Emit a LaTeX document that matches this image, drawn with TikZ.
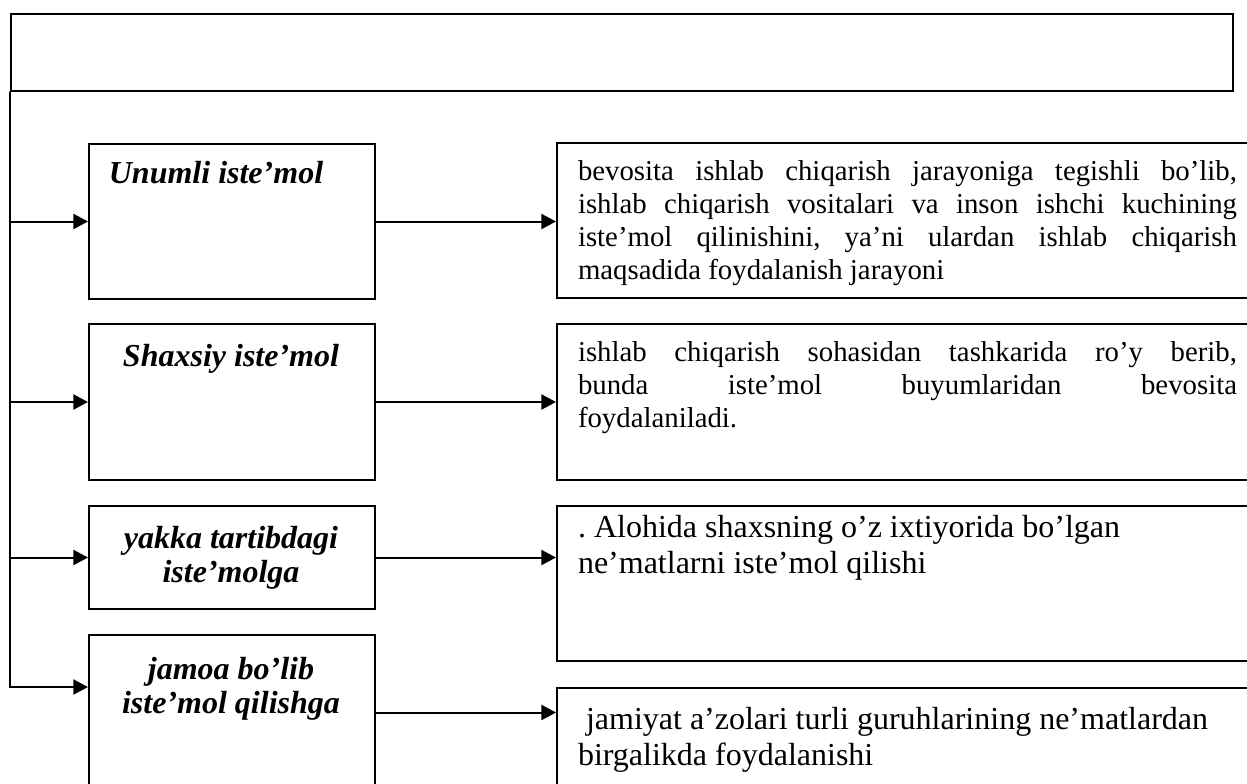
\documentclass[tikz,border=0pt]{standalone}
\usepackage{fontspec}
\setmainfont{Liberation Serif}
\usetikzlibrary{arrows.meta}
\newcommand\jline[1]{\makebox[329.5pt][s]{\spaceskip=0pt\xspaceskip=0pt #1}}

\begin{document}
\begin{tikzpicture}[x=0.5pt, y=-0.5pt, line width=1pt, line cap=round,
  >={Triangle[length=7.3pt,width=7.5pt]},
  box/.style={draw, inner sep=0pt, anchor=north west},
  lbox/.style={box, minimum width=143pt, minimum height=77.5pt},
  rbox/.style={box, minimum width=353pt, minimum height=77.5pt},
  ltext/.style={anchor=base, align=center, inner sep=0pt,
    font=\fontsize{16pt}{17pt}\selectfont\bfseries\itshape},
  rtext/.style={anchor=base west, inner sep=0pt, text width=329.5pt, align=justify,
    font=\fontsize{14.4pt}{16.5pt}\selectfont\frenchspacing},
  rtextb/.style={rtext, text width=345pt, font=\fontsize{16pt}{18pt}\selectfont\frenchspacing}]

\useasboundingbox (0,0) rectangle (1247,783);
\clip (0,0) rectangle (1247,783);

\node[box, minimum width=611pt, minimum height=38.5pt] (top) at (10,13) {};

\node[lbox] (b1) at (88,143) {};
\node[lbox, minimum height=78pt] (b2) at (88,323) {};
\node[lbox, minimum height=51.5pt] (b3) at (88,505) {};
\node[lbox] (b4) at (88,634) {};

\node[rbox] (r1) at (556,142) {};
\node[rbox, minimum height=78pt] (r2) at (556,323) {};
\node[rbox] (r3) at (556,505) {};
\node[rbox] (r4) at (556,687) {};

% two-line labels sit on the baseline of their last line
\node[ltext] (t1) at (216,183) {Unumli iste'mol};
\node[ltext] (t2) at (231,366) {Shaxsiy iste'mol};
\node[ltext] (t3) at (231,582) {yakka tartibdagi\\iste'molga};
\node[ltext] (t4) at (231,713) {jamoa bo'lib\\iste'mol qilishga};

\node[rtext] (d1) at (577,180) {\jline{bevosita ishlab chiqarish jarayoniga tegishli bo'lib,}\\
  \jline{ishlab chiqarish vositalari va inson ishchi kuchining}\\
  \jline{iste'mol qilinishini, ya'ni ulardan ishlab chiqarish}\\
  maqsadida foydalanish jarayoni};
\node[rtext] (d2) at (577,361) {\jline{ishlab chiqarish sohasidan tashkarida ro'y berib,}\\
  \jline{bunda iste'mol buyumlaridan bevosita}\\
  foydalaniladi.};
\node[rtextb] (d3) at (577,537) {. Alohida shaxsning o'z ixtiyorida bo'lgan\\
  ne'matlarni iste'mol qilishi};
\node[rtextb] (d4) at (577,729) {\hspace*{4pt}jamiyat a'zolari turli guruhlarining ne'matlardan\\
  birgalikda foydalanishi};

\coordinate (corner) at (top.south west |- r4.north);
\draw[->] (top.south west) -- (corner) -- (corner -| b4.west);
\foreach \b in {b1,b2,b3} \draw[->] (top.west |- \b.west) -- (\b.west);
\foreach \b/\r in {b1/r1,b2/r2,b3/r3,b4/r4} \draw[->] (\b.east) -- (\b.east -| \r.west);

\end{tikzpicture}
\end{document}
